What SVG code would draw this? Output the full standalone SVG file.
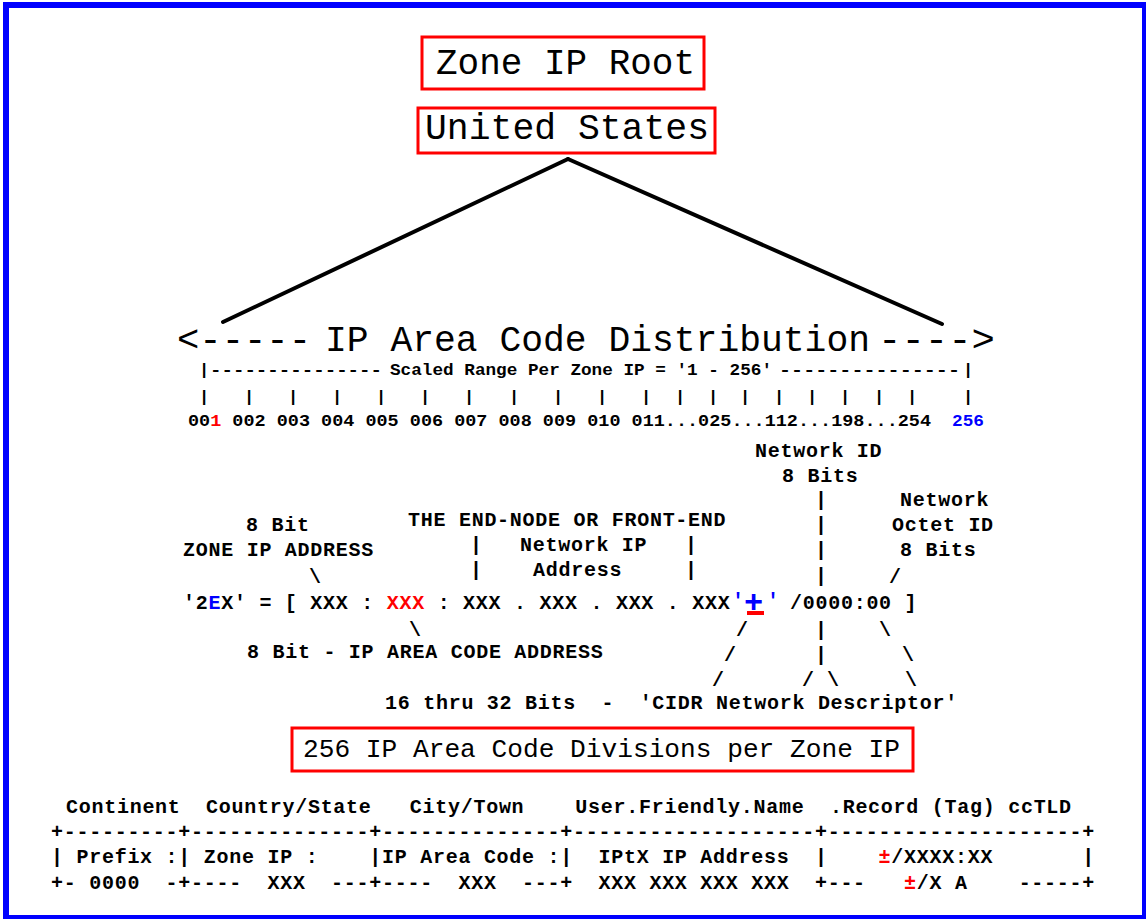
<svg xmlns="http://www.w3.org/2000/svg" width="1146" height="919" viewBox="0 0 1146 919">
<style>
.m{font-family:"Liberation Mono","DejaVu Sans Mono",monospace;font-weight:bold;font-size:20px;letter-spacing:0.73px;fill:#000;white-space:pre}
.big{font-family:"Liberation Mono","DejaVu Sans Mono",monospace;font-size:36px;fill:#000;white-space:pre}
.mid{font-family:"Liberation Mono","DejaVu Sans Mono",monospace;font-size:26px;fill:#000;white-space:pre}
.n{font-family:"Liberation Mono","DejaVu Sans Mono",monospace;font-weight:bold;font-size:17px;fill:#000;white-space:pre}
.box{fill:#fff;stroke:#ff0000;stroke-width:3}
.red{fill:#ff0000}
.blue{fill:#0000ff}
</style>
<rect x="0" y="0" width="1146" height="919" fill="#fff"/>
<rect x="6" y="5" width="1139" height="913" fill="none" stroke="#0000ff" stroke-width="6"/>

<g id="connectors">
<line x1="568" y1="159" x2="223" y2="322" stroke="#000" stroke-width="4" stroke-linecap="round"/>
<line x1="568" y1="159" x2="942" y2="324" stroke="#000" stroke-width="4" stroke-linecap="round"/>
</g>

<g id="node-root">
<rect class="box" x="422" y="37" width="282" height="52"/>
<text class="big" x="436" y="74" textLength="259" lengthAdjust="spacingAndGlyphs">Zone IP Root</text>
</g>

<g id="node-us">
<rect class="box" x="418" y="108" width="297" height="45"/>
<text class="big" x="425" y="139" textLength="284" lengthAdjust="spacingAndGlyphs">United States</text>
</g>

<g id="node-distribution">
<text class="big" x="177" y="351" textLength="134" lengthAdjust="spacingAndGlyphs">&lt;-----</text>
<text class="big" x="325" y="351" textLength="545" lengthAdjust="spacingAndGlyphs">IP Area Code Distribution</text>
<text class="big" x="878" y="351" textLength="117" lengthAdjust="spacingAndGlyphs">----&gt;</text>
</g>

<g id="node-scale">
<text class="n" x="199" y="375">|</text>
<text class="n" x="210" y="375" textLength="172" lengthAdjust="spacingAndGlyphs">---------------</text>
<text class="n" x="390" y="375" textLength="382" lengthAdjust="spacingAndGlyphs">Scaled Range Per Zone IP = '1 - 256'</text>
<text class="n" x="779" y="375" textLength="181" lengthAdjust="spacingAndGlyphs">---------------</text>
<text class="n" x="963" y="375">|</text>
<g class="n">
<text class="n" x="199" y="402">|</text>
<text class="n" x="244" y="402">|</text>
<text class="n" x="288" y="402">|</text>
<text class="n" x="332" y="402">|</text>
<text class="n" x="376" y="402">|</text>
<text class="n" x="420" y="402">|</text>
<text class="n" x="464" y="402">|</text>
<text class="n" x="509" y="402">|</text>
<text class="n" x="553" y="402">|</text>
<text class="n" x="597" y="402">|</text>
<text class="n" x="641" y="402">|</text>
<text class="n" x="675" y="402">|</text>
<text class="n" x="708" y="402">|</text>
<text class="n" x="740" y="402">|</text>
<text class="n" x="774" y="402">|</text>
<text class="n" x="807" y="402">|</text>
<text class="n" x="840" y="402">|</text>
<text class="n" x="874" y="402">|</text>
<text class="n" x="907" y="402">|</text>
<text class="n" x="963" y="402">|</text>
</g>
<text class="n" x="188" y="426" textLength="743" lengthAdjust="spacingAndGlyphs">00<tspan class="red">1</tspan> 002 003 004 005 006 007 008 009 010 011...025...112...198...254</text>
<text class="n blue" x="952" y="426" textLength="32" lengthAdjust="spacingAndGlyphs">256</text>
</g>

<g id="node-network-id">
<text class="m" x="755" y="457">Network ID</text>
<text class="m" x="782" y="482">8 Bits</text>
<text class="m" x="815" y="506">|</text>
<text class="m" x="815" y="531">|</text>
<text class="m" x="815" y="556">|</text>
<text class="m" x="815" y="582">|</text>
</g>

<g id="node-octet-id">
<text class="m" x="900" y="506">Network</text>
<text class="m" x="892" y="531">Octet ID</text>
<text class="m" x="900" y="556">8 Bits</text>
<text class="m" x="889" y="583">/</text>
</g>

<g id="node-zone-ip">
<text class="m" x="246" y="531">8 Bit</text>
<text class="m" x="183" y="556">ZONE IP ADDRESS</text>
<text class="m" x="309" y="583">\</text>
</g>

<g id="node-end-node">
<text class="m" x="408" y="526">THE END-NODE OR FRONT-END</text>
<text class="m" x="470" y="551">|</text>
<text class="m" x="470" y="576">|</text>
<text class="m" x="520" y="551">Network IP</text>
<text class="m" x="533" y="576">Address</text>
<text class="m" x="685" y="551">|</text>
<text class="m" x="685" y="576">|</text>
</g>

<g id="node-address">
<text class="m" x="183" y="609">'2<tspan class="blue">E</tspan>X' = [ XXX : <tspan class="red">XXX</tspan> : XXX . XXX . XXX . XXX</text>
<text class="m blue" x="732" y="607">'</text>
<text class="m blue" x="767" y="607">'</text>
<text class="blue" x="744" y="612" style="font-family:'Liberation Mono',monospace;font-weight:bold;font-size:32px">+</text>
<rect x="747" y="611" width="17" height="4" fill="#ff0000"/>
<text class="m" x="790" y="609">/0000:00 ]</text>
</g>

<g id="node-area-code">
<text class="m" x="409" y="636">\</text>
<text class="m" x="247" y="658">8 Bit - IP AREA CODE ADDRESS</text>
</g>

<g id="node-cidr">
<text class="m" x="736" y="636">/</text>
<text class="m" x="815" y="636">|</text>
<text class="m" x="879" y="636">\</text>
<text class="m" x="724" y="661">/</text>
<text class="m" x="815" y="661">|</text>
<text class="m" x="902" y="661">\</text>
<text class="m" x="712" y="686">/</text>
<text class="m" x="802" y="686">/</text>
<text class="m" x="827" y="686">\</text>
<text class="m" x="905" y="686">\</text>
<text class="m" x="385" y="709">16 thru 32 Bits  -  'CIDR Network Descriptor'</text>
</g>

<g id="node-divisions">
<rect class="box" x="292" y="728" width="621" height="43"/>
<text class="mid" x="303" y="757" textLength="597" lengthAdjust="spacingAndGlyphs">256 IP Area Code Divisions per Zone IP</text>
</g>

<g id="node-table">
<text class="m" x="66" y="813">Continent  Country/State   City/Town    User.Friendly.Name  .Record (Tag) ccTLD</text>
<text class="m" x="51" y="838">+---------+--------------+--------------+-------------------+--------------------+</text>
<text class="m" x="51" y="863">| Prefix :| Zone IP :    |IP Area Code :|  IPtX IP Address  |    <tspan class="red">±</tspan>/XXXX:XX       |</text>
<text class="m" x="51" y="889">+- 0000  -+----  XXX  ---+----  XXX  ---+  XXX XXX XXX XXX  +---   <tspan class="red">±</tspan>/X A    -----+</text>
</g>
</svg>
